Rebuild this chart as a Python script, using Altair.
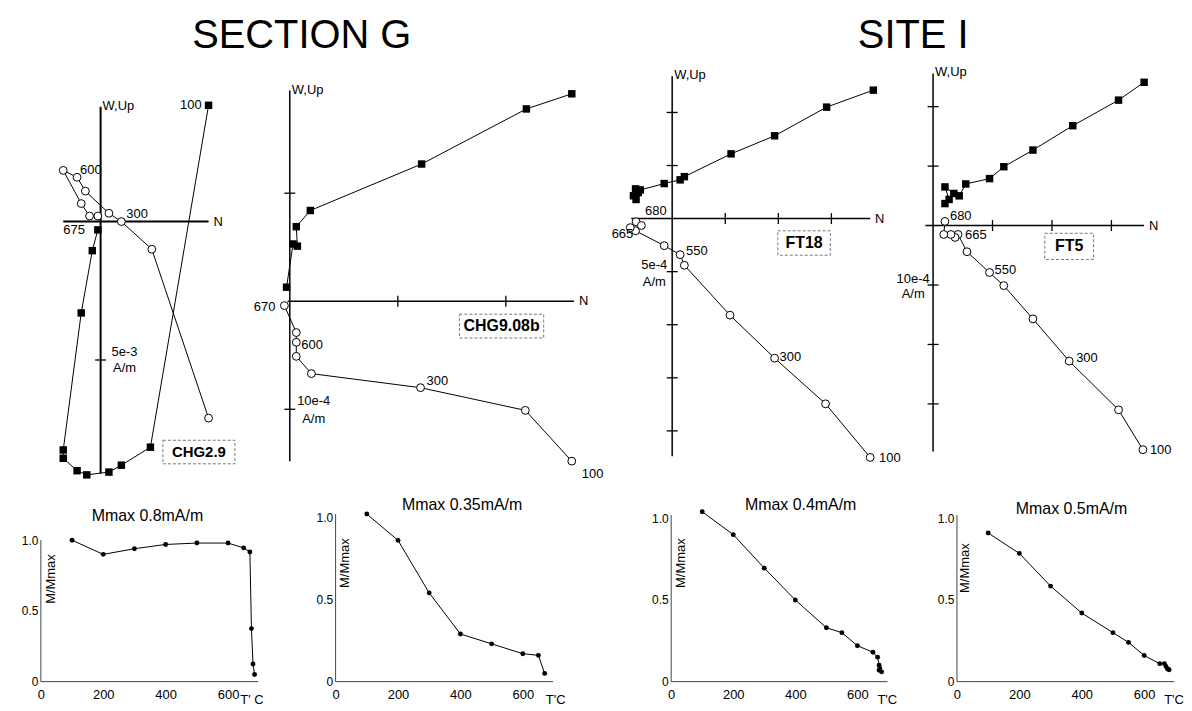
import altair as alt
import pandas as pd

FONT = "Liberation Sans"

# ---------------- Zijderveld diagrams (values in units of one axis tick) ----------------
# CHG2.9  (tick = 5e-3 A/m)
chg29_hor_n = [0.78, 0.36, 0.15, 0.06, -0.10, -0.17, -0.27, -0.27, -0.14, -0.06, -0.02]
chg29_hor_w = [0.84, -1.63, -1.76, -1.81, -1.83, -1.80, -1.71, -1.65, -0.66, -0.21, -0.06]
chg29_ver_n = [0.78, 0.37, 0.15, 0.06, -0.11, -0.17, -0.27, -0.14, -0.08, -0.02]
chg29_ver_up = [-1.42, -0.20, 0.00, 0.06, 0.22, 0.32, 0.37, 0.13, 0.04, 0.04]

# CHG9.08b  (tick = 10e-4 A/m)
chg908_hor_n = [2.61, 2.19, 1.22, 0.19, 0.06, 0.07, 0.03, -0.03]
chg908_hor_w = [1.92, 1.78, 1.27, 0.84, 0.69, 0.51, 0.53, 0.13]
chg908_ver_n = [2.61, 2.18, 1.21, 0.20, 0.06, 0.06, 0.06, -0.05]
chg908_ver_up = [-1.48, -1.01, -0.80, -0.67, -0.51, -0.38, -0.29, -0.04]

# FT18  (tick = 5e-4 A/m)
ft18_hor_n = [3.79, 2.91, 1.93, 1.11, 0.23, 0.15, -0.15, -0.60, -0.69, -0.64, -0.73, -0.68]
ft18_hor_w = [2.42, 2.10, 1.56, 1.22, 0.79, 0.73, 0.66, 0.54, 0.56, 0.49, 0.43, 0.36]
ft18_ver_n = [3.73, 2.89, 1.93, 1.09, 0.23, 0.15, -0.15, -0.69, -0.79, -0.68, -0.58]
ft18_ver_up = [-4.50, -3.49, -2.63, -1.82, -0.88, -0.68, -0.51, -0.23, -0.17, -0.06, -0.13]

# FT5  (tick = 10e-4 A/m)
ft5_hor_n = [3.55, 3.12, 2.35, 1.68, 1.19, 0.95, 0.55, 0.44, 0.35, 0.20, 0.27, 0.20]
ft5_hor_w = [2.41, 2.11, 1.68, 1.27, 0.99, 0.79, 0.70, 0.50, 0.54, 0.65, 0.44, 0.37]
ft5_ver_n = [3.53, 3.12, 2.29, 1.68, 1.19, 0.95, 0.57, 0.42, 0.37, 0.30, 0.18, 0.20]
ft5_ver_up = [-3.77, -3.10, -2.28, -1.57, -1.01, -0.79, -0.44, -0.15, -0.20, -0.15, -0.15, 0.07]

# ---------------- Thermal demagnetisation curves ----------------
chg29_T = [100, 200, 300, 400, 500, 600, 650, 670, 675, 680, 685]
chg29_M = [1.00, 0.90, 0.94, 0.97, 0.98, 0.98, 0.946, 0.917, 0.375, 0.125, 0.05]
chg908_T = [100, 200, 300, 400, 500, 600, 650, 670]
chg908_M = [1.02, 0.86, 0.54, 0.29, 0.23, 0.17, 0.16, 0.05]
ft18_T = [100, 200, 300, 400, 500, 550, 600, 650, 665, 670, 672, 670, 678]
ft18_M = [1.04, 0.90, 0.695, 0.50, 0.33, 0.30, 0.22, 0.18, 0.15, 0.10, 0.08, 0.07, 0.06]
ft5_T = [100, 200, 300, 400, 500, 550, 600, 650, 665, 670, 675, 680]
ft5_M = [0.91, 0.785, 0.585, 0.42, 0.30, 0.24, 0.16, 0.11, 0.11, 0.093, 0.077, 0.073]

x_tick_labels = [0, 200, 400, 600]
y_tick_labels = [0, 0.5, 1.0]

TOP_Y0, TOP_Y1 = 60, 500      # pixel rows of the top (Zijderveld) row
DH = 170                       # height of the bottom row


def zpanel(c):
    ox, oy, s = c["origin"]
    L, R = c["span"]
    xs = alt.Scale(domain=[(L - ox) / s, (R - ox) / s], nice=False, zero=False)
    ys = alt.Scale(domain=[(oy - TOP_Y1) / s, (oy - TOP_Y0) / s], nice=False, zero=False)

    def X(f):
        return alt.X(f, type="quantitative", scale=xs, axis=None)

    def Y(f):
        return alt.Y(f, type="quantitative", scale=ys, axis=None)

    hn, hw, vn, vu = c["hor_n"], c["hor_w"], c["ver_n"], c["ver_up"]
    hmin, hmax = c["haxis"]
    vmin, vmax = c["vaxis"]
    layers = []
    axes = pd.DataFrame({"x": [0, hmin], "x2": [0, hmax], "y": [vmin, 0], "y2": [vmax, 0]})
    layers.append(alt.Chart(axes).mark_rule(color="black", strokeWidth=c["axis_w"]).encode(
        x=X("x"), x2="x2", y=Y("y"), y2="y2"))
    if c["vticks"]:
        vt = pd.DataFrame({"x": [0] * len(c["vticks"]), "y": c["vticks"]})
        layers.append(alt.Chart(vt).mark_tick(orient="horizontal", size=11, thickness=1.3, color="black",
                                              opacity=1).encode(x=X("x"), y=Y("y")))
    if c["hticks"]:
        ht = pd.DataFrame({"x": c["hticks"], "y": [0] * len(c["hticks"])})
        layers.append(alt.Chart(ht).mark_tick(orient="vertical", size=11, thickness=1.3, color="black",
                                              opacity=1).encode(x=X("x"), y=Y("y")))
    hor = pd.DataFrame({"x": hn, "y": hw, "i": list(range(len(hn))), "s": "h"})
    ver = pd.DataFrame({"x": vn, "y": vu, "i": list(range(len(vn))), "s": "v"})
    both = pd.concat([hor, ver])
    layers.append(alt.Chart(both).mark_line(color="black", strokeWidth=1).encode(
        x=X("x"), y=Y("y"), detail="s:N", order="i:Q"))
    layers.append(alt.Chart(hor).mark_point(shape="square", filled=True, color="black", size=56,
                                            opacity=1).encode(x=X("x"), y=Y("y")))
    layers.append(alt.Chart(ver).mark_point(shape="circle", filled=True, fill="white", stroke="black",
                                            strokeWidth=1, size=62, opacity=1).encode(x=X("x"), y=Y("y")))
    # temperature step labels, anchored on their points
    rows = []
    for ser, idx, txt, dx, dy, al in c["labels"]:
        px = (hn if ser == "h" else vn)[idx]
        py = (hw if ser == "h" else vu)[idx]
        rows.append({"x": px + dx / s, "y": py - dy / s, "t": txt, "a": al})
    # unit labels at the first negative tick of the vertical axis
    u1, u2, udx, udy1, udy2 = c["units"]
    rows.append({"x": udx / s, "y": -1 - udy1 / s, "t": u1, "a": "center"})
    rows.append({"x": udx / s, "y": -1 - udy2 / s, "t": u2, "a": "center"})
    rows.append({"x": 2 / s, "y": vmax + 1 / s, "t": "W,Up", "a": "left"})
    rows.append({"x": hmax + 5 / s, "y": 0, "t": "N", "a": "left"})
    lab = pd.DataFrame(rows)
    for al in ["left", "right", "center"]:
        sub = lab[lab["a"] == al]
        if len(sub):
            layers.append(alt.Chart(sub).mark_text(align=al, baseline="middle", fontSize=13, color="black",
                                                   font=FONT).encode(x=X("x"), y=Y("y"), text="t:N"))
    bx = c["box"]
    box = pd.DataFrame({"x": [bx[0]], "x2": [bx[1]], "y": [bx[2]], "y2": [bx[3]], "t": [c["name"]],
                        "cx": [(bx[0] + bx[1]) / 2], "cy": [(bx[2] + bx[3]) / 2]})
    layers.append(alt.Chart(box).mark_rect(fillOpacity=0, stroke="#777", strokeWidth=1,
                                           strokeDash=[3, 2]).encode(x=X("x"), x2="x2", y=Y("y"), y2="y2"))
    layers.append(alt.Chart(box).mark_text(fontWeight="bold", fontSize=c["name_size"], align="center",
                                           baseline="middle", color="black", font=FONT).encode(
        x=X("cx"), y=Y("cy"), text="t:N"))
    if c.get("title"):
        tt, tx, ty = c["title"]
        layers.append(alt.Chart(pd.DataFrame({"t": [tt]})).mark_text(
            fontSize=40, align="center", baseline="alphabetic", color="black", font=FONT).encode(
            x=alt.value(tx), y=alt.value(ty), text="t:N"))
    return alt.layer(*layers).properties(width=R - L, height=TOP_Y1 - TOP_Y0)


def dpanel(c):
    T, M = c["T"], c["M"]
    xs = alt.Scale(domain=[0, c["width"] / c["ppd"]], nice=False, zero=False)
    ys = alt.Scale(domain=[0, DH / c["ppu"]], nice=False, zero=False)
    xax = alt.Axis(values=x_tick_labels, domain=False, ticks=False, grid=False, labelPadding=7,
                   labelFontSize=13, labelColor="black", labelFont=FONT, title=None, labelFlush=False)
    yax = alt.Axis(values=y_tick_labels, domain=False, ticks=False, grid=False, labelPadding=3,
                   labelFontSize=12, labelColor="black", labelFont=FONT, title=None,
                   labelExpr="datum.value == 0 ? '0' : format(datum.value, '.1f')")

    def X(f):
        return alt.X(f, type="quantitative", scale=xs, axis=xax)

    def Y(f):
        return alt.Y(f, type="quantitative", scale=ys, axis=yax)

    layers = []
    ax = pd.DataFrame({"x": [0, 0], "x2": [0, 697], "y": [0, 0], "y2": [c["ytop"], 0]})
    layers.append(alt.Chart(ax).mark_rule(color="#444", strokeWidth=1).encode(
        x=X("x"), x2="x2", y=Y("y"), y2="y2"))
    df = pd.DataFrame({"T": T, "M": M, "i": list(range(len(T)))})
    layers.append(alt.Chart(df).mark_line(color="black", strokeWidth=1).encode(x=X("T"), y=Y("M"), order="i:Q"))
    layers.append(alt.Chart(df).mark_circle(color="black", size=24, opacity=1).encode(x=X("T"), y=Y("M")))
    tt, tx, ty = c["title"]
    layers.append(alt.Chart(pd.DataFrame({"t": [tt]})).mark_text(
        fontSize=16, align="center", baseline="middle", color="black", font=FONT).encode(
        x=alt.value(tx), y=alt.value(ty), text="t:N"))
    lx, ly = c["ylab"]
    layers.append(alt.Chart(pd.DataFrame({"t": ["M/Mmax"]})).mark_text(
        fontSize=13, angle=270, align="center", baseline="middle", color="black", font=FONT).encode(
        x=alt.value(lx), y=alt.value(ly), text="t:N"))
    ct, cx, cy = c["tc"]
    layers.append(alt.Chart(pd.DataFrame({"t": [ct]})).mark_text(
        fontSize=13, align="center", baseline="middle", color="black", font=FONT).encode(
        x=alt.value(cx), y=alt.value(cy), text="t:N"))
    return alt.layer(*layers).properties(width=c["width"], height=DH)


zcfg = [
    dict(name="CHG2.9", name_size=15, origin=(100, 219, 139.0), span=(40, 336),
         hor_n=chg29_hor_n, hor_w=chg29_hor_w, ver_n=chg29_ver_n, ver_up=chg29_ver_up,
         haxis=(-0.27, 0.78), vaxis=(-1.82, 0.83), vticks=[-1], hticks=[], axis_w=2,
         labels=[("h", 0, "100", -7, 0, "right"), ("v", 2, "300", 5, -8, "left"),
                 ("v", 5, "600", 3, -7, "left"), ("h", 10, "675", -13, 0, "right")],
         units=("5e-3", "A/m", 24, -8, 8), box=(0.45, 0.97, -1.58, -1.75),
         title=("SECTION G", 262, -15)),
    dict(name="CHG9.08b", name_size=16, origin=(290, 299, 108.5), span=(336, 673),
         hor_n=chg908_hor_n, hor_w=chg908_hor_w, ver_n=chg908_ver_n, ver_up=chg908_ver_up,
         haxis=(-0.02, 2.63), vaxis=(-1.48, 1.95), vticks=[1, -1], hticks=[1, 2], axis_w=1.5,
         labels=[("v", 0, "100", 10, 13, "left"), ("v", 2, "300", 6, -7, "left"),
                 ("v", 5, "600", 5, 3, "left"), ("v", 7, "670", -9, 1, "right")],
         units=("10e-4", "A/m", 24, -8, 10), box=(1.57, 2.35, -0.12, -0.34)),
    dict(name="FT18", name_size=16, origin=(674, 216, 53.3), span=(673, 960),
         hor_n=ft18_hor_n, hor_w=ft18_hor_w, ver_n=ft18_ver_n, ver_up=ft18_ver_up,
         haxis=(-0.77, 3.73), vaxis=(-4.48, 2.68), vticks=[2, 1, -1, -2, -3, -4], hticks=[1, 2, 3],
         axis_w=1.5,
         labels=[("v", 0, "100", 9, 1, "left"), ("v", 2, "300", 5, -1, "left"),
                 ("v", 5, "550", 6, -4, "left"), ("v", 8, "665", 3, 6, "right"),
                 ("v", 9, "680", 9, -11, "left")],
         units=("5e-4", "A/m", -18, -7, 10), box=(1.99, 2.98, -0.23, -0.69),
         title=("SITE I", 243, -15)),
    dict(name="FT5", name_size=16, origin=(936, 223, 59.7), span=(960, 1180),
         hor_n=ft5_hor_n, hor_w=ft5_hor_w, ver_n=ft5_ver_n, ver_up=ft5_ver_up,
         haxis=(-0.13, 3.55), vaxis=(-3.80, 2.56), vticks=[2, 1, -1, -2, -3], hticks=[1, 2, 3],
         axis_w=1.5,
         labels=[("v", 0, "100", 7, 0, "left"), ("v", 2, "300", 7, -3, "left"),
                 ("v", 5, "550", 5, -3, "left"), ("v", 7, "665", 7, 1, "left"),
                 ("v", 11, "680", 5, -5, "left")],
         units=("10e-4", "A/m", -20, -6, 9), box=(1.88, 2.70, -0.13, -0.57)),
]

dcfg = [
    dict(T=chg29_T, M=chg29_M, width=296, ppd=0.3133, ppu=142, ytop=1.0,
         title=("Mmax 0.8mA/m", 107, 4), ylab=(10, 67), tc=("T' C", 212, 188)),
    dict(T=chg908_T, M=chg908_M, width=337, ppd=0.3133, ppu=165, ytop=1.02,
         title=("Mmax 0.35mA/m", 127, -7), ylab=(9, 51), tc=("T'C", 221, 188)),
    dict(T=ft18_T, M=ft18_M, width=287, ppd=0.3117, ppu=164, ytop=1.02,
         title=("Mmax 0.4mA/m", 130, -7), ylab=(10, 51), tc=("T'C", 217, 188)),
    dict(T=ft5_T, M=ft5_M, width=220, ppd=0.3133, ppu=164, ytop=1.02,
         title=("Mmax 0.5mA/m", 115, -3), ylab=(8, 56), tc=("T'C", 218, 188)),
]

panels = [zpanel(c) for c in zcfg] + [dpanel(c) for c in dcfg]

chart = alt.concat(*panels, columns=4, spacing={"row": 11, "column": 0}, bounds="flush",
                   align="each").properties(
    padding={"left": 13, "top": 7, "right": 0, "bottom": 0}
).configure(font=FONT, background="white", view=alt.ViewConfig(stroke=None, strokeWidth=0))

chart.save("out.html", embed_options={"renderer": "svg", "actions": False})
